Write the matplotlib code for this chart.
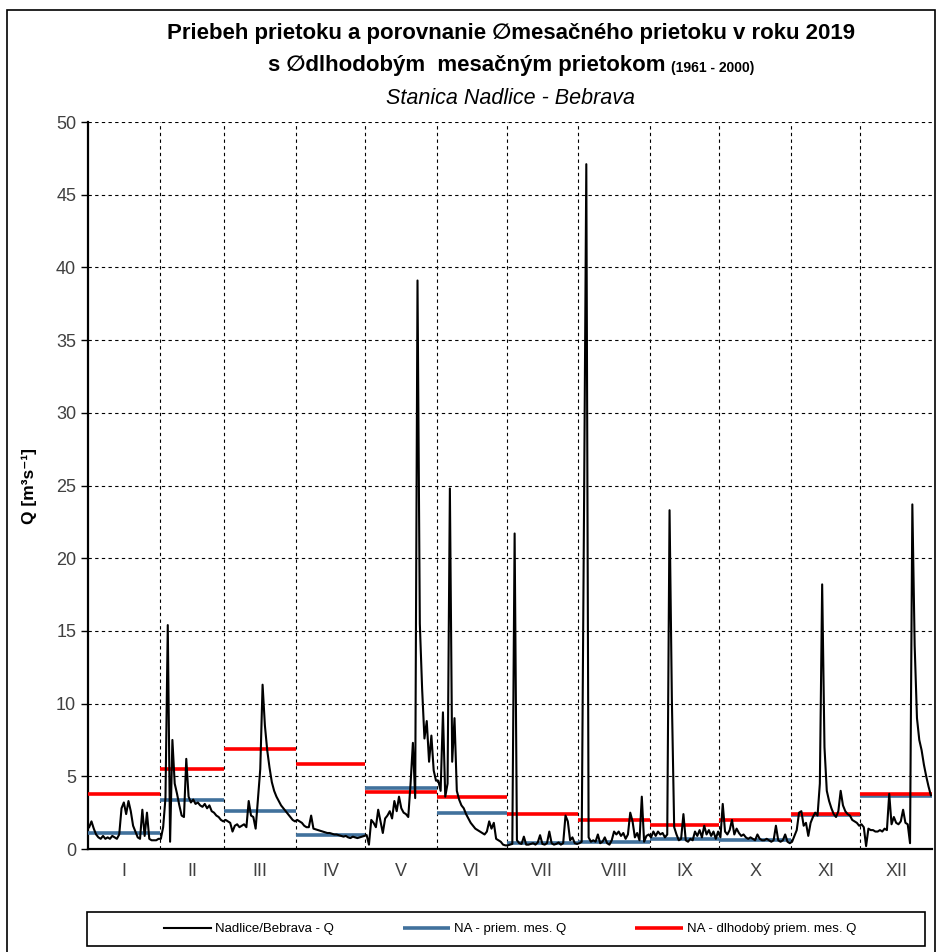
import numpy as np
import matplotlib
matplotlib.use("Agg")
import matplotlib.pyplot as plt
from matplotlib.patches import Rectangle

# daily discharge Q [m3/s], one list per month
jan = [1.5, 1.9, 1.4, 1.0, 0.8, 0.7, 0.9, 0.7, 0.8, 0.7, 0.9, 0.8, 0.7, 1.0, 2.8, 3.2,
       2.4, 3.3, 2.6, 1.6, 1.2, 0.8, 0.7, 2.7, 0.9, 2.5, 0.7, 0.6, 0.6, 0.6, 0.7]
feb = [0.7, 1.5, 3.5, 15.4, 0.5, 7.5, 4.5, 3.8, 3.0, 2.3, 2.2, 6.2, 3.6, 3.2, 3.4, 3.1,
       3.2, 3.0, 2.9, 3.1, 2.8, 3.0, 2.6, 2.5, 2.3, 2.2, 2.0, 1.9]
mar = [2.0, 1.9, 1.8, 1.2, 1.6, 1.7, 1.5, 1.6, 1.7, 1.5, 3.3, 2.3, 2.2, 1.4, 3.5, 5.5,
       11.3, 8.5, 6.8, 5.6, 4.6, 4.0, 3.6, 3.3, 3.0, 2.8, 2.6, 2.4, 2.2, 2.0, 1.9]
apr = [2.0, 1.9, 1.8, 1.6, 1.5, 1.5, 2.3, 1.4, 1.35, 1.3, 1.25, 1.2, 1.15, 1.1, 1.1,
       1.05, 1.0, 1.0, 0.95, 0.9, 0.85, 0.9, 0.8, 0.75, 0.85, 0.8, 0.75, 0.8, 0.85, 0.9]
may = [0.96, 0.3, 2.0, 1.8, 1.5, 2.7, 1.9, 1.1, 2.1, 2.3, 2.6, 2.1, 3.3, 2.6, 3.6, 2.8,
       2.5, 2.4, 2.2, 4.5, 7.3, 3.5, 39.1, 15.5, 11.0, 7.6, 8.8, 6.0, 7.8, 5.4, 4.7]
jun = [4.7, 4.0, 9.4, 3.6, 4.5, 24.8, 6.0, 9.0, 4.0, 3.4, 3.0, 2.8, 2.4, 2.1, 1.8, 1.6,
       1.4, 1.3, 1.2, 1.1, 1.0, 1.2, 1.9, 1.4, 1.8, 0.7, 0.6, 0.5, 0.3, 0.25]
jul = [0.25, 0.3, 0.35, 21.7, 0.6, 0.4, 0.35, 0.85, 0.3, 0.3, 0.35, 0.4, 0.3, 0.45, 0.95,
       0.35, 0.3, 0.4, 1.2, 0.4, 0.3, 0.35, 0.45, 0.3, 0.4, 2.3, 1.9, 0.6, 0.8, 0.4, 0.35]
aug = [0.4, 0.5, 23.0, 47.1, 0.8, 0.5, 0.6, 0.5, 1.0, 0.4, 0.5, 0.8, 0.4, 0.3, 0.6, 1.2,
       1.0, 1.2, 0.9, 1.1, 0.7, 1.0, 2.5, 1.9, 0.8, 1.1, 0.6, 3.6, 0.5, 0.9, 1.0]
sep = [0.8, 1.2, 0.9, 1.2, 1.0, 1.1, 0.8, 1.0, 23.3, 10.3, 1.5, 1.0, 0.6, 0.7, 2.4, 0.6,
       0.5, 0.7, 0.6, 1.2, 0.9, 1.3, 0.8, 1.6, 1.0, 1.3, 0.9, 1.2, 0.7, 1.2]
oct_ = [0.8, 3.1, 1.2, 1.0, 1.3, 2.0, 1.0, 1.4, 1.1, 0.9, 1.0, 0.8, 0.7, 0.8, 0.7, 0.6,
        1.0, 0.7, 0.6, 0.6, 0.7, 0.6, 0.5, 0.6, 1.6, 0.6, 0.5, 0.6, 1.0, 0.5, 0.4]
nov = [0.5, 0.9, 1.3, 2.5, 2.6, 1.6, 1.8, 0.9, 1.8, 2.2, 2.5, 2.3, 4.5, 18.2, 7.0, 4.0,
       3.3, 2.8, 2.4, 2.2, 2.6, 4.0, 3.0, 2.6, 2.4, 2.3, 2.0, 1.9, 1.8, 1.6]
dec = [1.7, 1.5, 0.2, 1.4, 1.3, 1.3, 1.2, 1.2, 1.3, 1.2, 1.4, 1.3, 3.8, 1.7, 2.2, 1.8,
       1.7, 1.9, 2.7, 1.8, 1.7, 0.4, 23.7, 14.0, 9.0, 7.5, 6.8, 5.8, 5.0, 4.3, 3.7]

# monthly means 2019 (blue) and long-term monthly means 1961-2000 (red)
mean_2019 = [1.12, 3.37, 2.64, 0.96, 4.22, 2.47, 0.39, 0.48, 0.71, 0.62, 2.35, 3.64]
mean_longterm = [3.78, 5.5, 6.88, 5.82, 3.94, 3.58, 2.43, 2.0, 1.63, 2.02, 2.38, 3.8]
months = ['I', 'II', 'III', 'IV', 'V', 'VI', 'VII', 'VIII', 'IX', 'X', 'XI', 'XII']

daily = [jan, feb, mar, apr, may, jun, jul, aug, sep, oct_, nov, dec]
ndays = np.array([len(m) for m in daily])
edges = np.concatenate([[0], np.cumsum(ndays)])
q = np.concatenate(daily)
x = np.arange(len(q)) + 0.5

plt.rcParams['font.family'] = ['Liberation Sans', 'DejaVu Sans']

W, H = 939, 952
fig = plt.figure(figsize=(W / 100, H / 100), dpi=100)
ax = fig.add_axes([88 / W, 1 - 849 / H, (932 - 88) / W, (849 - 122) / H])

blue = '#41719c'
red = '#ff0000'
ax.plot(x, q, color='black', lw=1.5, label='Nadlice/Bebrava - Q', zorder=4)
for i in range(12):
    ax.hlines(mean_2019[i], edges[i], edges[i + 1], color=blue, lw=2.6, zorder=3,
              label='NA - priem. mes. Q' if i == 0 else None)
    ax.hlines(mean_longterm[i], edges[i], edges[i + 1], color=red, lw=2.6, zorder=3,
              label='NA - dlhodobý priem. mes. Q' if i == 0 else None)

ax.set_xlim(0, edges[-1])
ax.set_ylim(0, 50)
ax.set_yticks(np.arange(0, 51, 5))
ax.tick_params(axis='y', labelsize=13, labelcolor='#404040', direction='out', length=5, width=1)
ax.set_xticks(edges[1:-1])
ax.set_xticks((edges[:-1] + edges[1:]) / 2, minor=True)
ax.set_xticklabels(months, minor=True)
ax.tick_params(axis='x', which='major', length=0, labelbottom=False)
ax.tick_params(axis='x', which='minor', length=0, labelsize=13, labelcolor='#404040', pad=10)
ax.grid(True, which='major', color='black', ls=(0, (3, 3)), lw=0.8)
ax.set_axisbelow(True)
for s in ['top', 'right']:
    ax.spines[s].set_visible(False)
ax.spines['left'].set_linewidth(1.6)
ax.spines['bottom'].set_linewidth(1.6)
ax.set_ylabel('Q [m³s⁻¹]', fontsize=12.5, fontweight='bold', labelpad=14)

# titles
cx = 511 / W
fig.text(cx, 1 - 33 / H, 'Priebeh prietoku a porovnanie ∅mesačného prietoku v roku 2019',
         ha='center', va='center', fontsize=16, fontweight='bold')
t_main = fig.text(0, 1 - 66 / H, 's ∅dlhodobým  mesačným prietokom',
                  ha='left', va='center', fontsize=16, fontweight='bold')
t_small = fig.text(0, 1 - 68 / H, '(1961 - 2000)',
                   ha='left', va='center', fontsize=10, fontweight='bold')
rend = fig.canvas.get_renderer()
w_main = t_main.get_window_extent(rend).width
w_small = t_small.get_window_extent(rend).width
gap = 5
x0 = 511 - (w_main + gap + w_small) / 2
t_main.set_x(x0 / W)
t_small.set_x((x0 + w_main + gap) / W)
fig.text(cx, 1 - 98 / H, 'Stanica Nadlice - Bebrava',
         ha='center', va='center', fontsize=15.5, style='italic')

# legend box under the chart
fig.legend(loc='center', bbox_to_anchor=(510 / W, 1 - 929 / H), ncol=3, fontsize=9.5,
           frameon=False, handlelength=3.6, handletextpad=0.3, columnspacing=5.2)
fig.patches.append(Rectangle((87 / W, 1 - 946 / H), (925 - 87) / W, 34 / H,
                             transform=fig.transFigure, fill=False, ec='black', lw=1.2))

# outer chart border
fig.patches.append(Rectangle((7 / W, -0.02), (935 - 7) / W, 1.02 - 10 / H,
                             transform=fig.transFigure, fill=False, ec='black', lw=1.2))

fig.savefig('out.png', dpi=100)
